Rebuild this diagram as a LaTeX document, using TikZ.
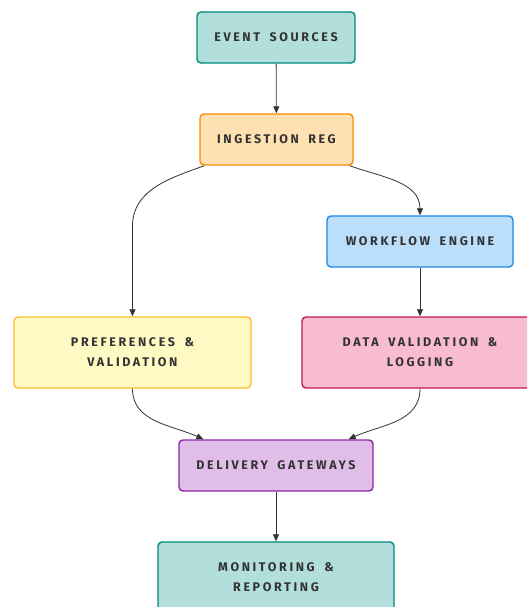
\documentclass[tikz,border=0pt]{standalone}
\usepackage{fontspec}
\setmainfont{Fira Sans}
\newfontfamily\spacedfont[LetterSpace=21,WordSpace=1.7]{Fira Sans}
\usepackage{xcolor}
\usetikzlibrary{arrows.meta}
\definecolor{tealfill}{HTML}{B2DFDB}
\definecolor{tealline}{HTML}{00897B}
\definecolor{orangefill}{HTML}{FFE0B2}
\definecolor{orangeline}{HTML}{FB8C00}
\definecolor{bluefill}{HTML}{BBDEFB}
\definecolor{blueline}{HTML}{1E88E5}
\definecolor{yellowfill}{HTML}{FFF9C4}
\definecolor{yellowline}{HTML}{FBC02D}
\definecolor{pinkfill}{HTML}{F8BBD0}
\definecolor{pinkline}{HTML}{C2185B}
\definecolor{violetfill}{HTML}{E1BEE7}
\definecolor{violetline}{HTML}{8E24AA}
\definecolor{textgray}{HTML}{333333}
\definecolor{linegray}{HTML}{333333}

\begin{document}
\begin{tikzpicture}[x=1pt,y=1pt,
		box/.style={draw,rounded corners=4pt,line width=1.4pt,text=textgray,align=center,
			inner sep=0pt,font=\spacedfont\bfseries\fontsize{12.5}{20}\selectfont},
		smallbox/.style={box,minimum height=51pt},
		bigbox/.style={box,minimum height=71pt,minimum width=236pt},
		arr/.style={-{Triangle[length=7pt,width=6pt]},line width=0.8pt,color=linegray}]
		\clip (0,0) rectangle (527,-607);
		\fill [white] (0,0) rectangle (527,-607);
		%
		\node [smallbox,minimum width=158pt,fill=tealfill,draw=tealline] (ev) at (276,-37.5) {EVENT SOURCES};
		\node [smallbox,minimum width=153pt,fill=orangefill,draw=orangeline] (ing) at (276.5,-139.5) {INGESTION REG};
		\node [smallbox,minimum width=186pt,fill=bluefill,draw=blueline] (wf) at (420,-241.5) {WORKFLOW ENGINE};
		\node [bigbox,minimum width=237pt,fill=yellowfill,draw=yellowline] (pref) at (132.5,-352.5) {PREFERENCES \&\\VALIDATION};
		\node [bigbox,fill=pinkfill,draw=pinkline] (dv) at (420,-352.5) {DATA VALIDATION \&\\LOGGING};
		\node [smallbox,minimum width=194pt,fill=violetfill,draw=violetline] (del) at (276,-465.5) {DELIVERY GATEWAYS};
		\node [bigbox,fill=tealfill,draw=tealline] (mon) at (276,-577.5) {MONITORING \&\\REPORTING};
		%
		\draw [arr] (ev) -- (ing);
		\draw [arr] ([xshift=5pt]ing.south west) to[out=200,in=90] ([yshift=90pt]pref.north) -- (pref.north);
		\draw [arr] ([xshift=-4pt]ing.south east) to[out=-20,in=90] (wf.north);
		\draw [arr] (wf) -- (dv);
		\draw [arr] (pref.south) to[out=-90,in=155] ([xshift=25pt]del.north west);
		\draw [arr] (dv.south) to[out=-90,in=25] ([xshift=-25pt]del.north east);
		\draw [arr] (del) -- (mon);
	\end{tikzpicture}
\end{document}
